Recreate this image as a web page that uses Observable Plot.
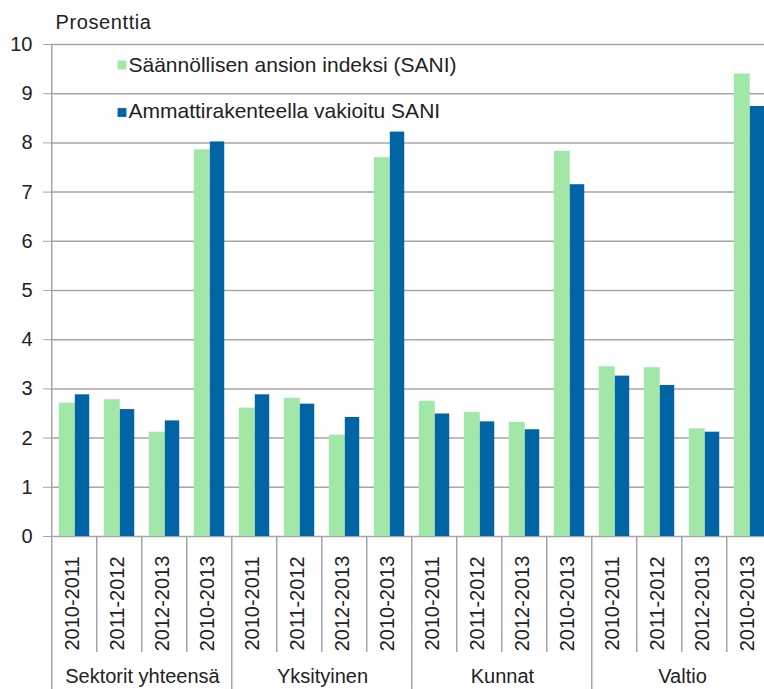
<!DOCTYPE html>
<html><head><meta charset="utf-8">
<script src="https://cdn.jsdelivr.net/npm/d3@7"></script>
<script src="https://cdn.jsdelivr.net/npm/@observablehq/plot@0.6"></script>
<style>
html,body{margin:0;padding:0;overflow:hidden;background:#fff;width:764px;height:689px;}
#chart svg{display:block;overflow:hidden;}
g[aria-label="y-axis tick"]{stroke:#a6a6a6;}
g[aria-label="y-axis"] .tick line{stroke:#a6a6a6;}
.legend text{font-size:21px;}
.ylab text{letter-spacing:0.6px;}
</style></head><body><div id="chart"></div>
<script>
// ---- data ----
const sectors = ["Sektorit yhteensä", "Yksityinen", "Kunnat", "Valtio"];
const periods = ["2010-2011", "2011-2012", "2012-2013", "2010-2013"];
const seriesNames = ["Säännöllisen ansion indeksi (SANI)", "Ammattirakenteella vakioitu SANI"];
const sani =     [2.71, 2.78, 2.12, 7.86,  2.61, 2.81, 2.06, 7.70,  2.75, 2.52, 2.32, 7.83,  3.45, 3.43, 2.19, 9.40];
const vakioitu = [2.88, 2.58, 2.35, 8.02,  2.88, 2.69, 2.42, 8.22,  2.49, 2.33, 2.17, 7.15,  3.26, 3.07, 2.12, 8.74];
const yTicks = [0, 1, 2, 3, 4, 5, 6, 7, 8, 9, 10];
const yLabel = "Prosenttia";

// ---- layout ----
const GREEN = "#a3e7a8", BLUE = "#0064a5", GRID = "#a6a6a6", TEXT = "#222";
const W = 764, H = 689, ML = 51, MR = -8, MT = 44, MB = 153;

const keys = [];
const rows = [];
sectors.forEach((s, si) => periods.forEach((p, pi) => {
  const i = si * periods.length + pi;
  const key = s + "|" + p;
  keys.push(key);
  rows.push({key, sector: s, period: p, sani: sani[i], vak: vakioitu[i]});
}));
const bw = (W - ML - MR) / keys.length;

const separators = (index, scales, values, dims) => {
  const x = scales.x;
  const g = d3.create("svg:g").attr("stroke", GRID).attr("stroke-width", 1.5).attr("fill", "none");
  const y0 = dims.height - dims.marginBottom;
  keys.forEach((k, i) => {
    const xx = Math.round(x(k)) - 0.25;
    g.append("line")
      .attr("x1", xx).attr("x2", xx)
      .attr("y1", i === 0 ? dims.marginTop : y0)
      .attr("y2", i % periods.length === 0 ? dims.height : y0 + 116);
  });
  return g.node();
};

const groupCenters = sectors.map((s) => ({s, key: s + "|" + periods[2]}));

const plot = Plot.plot({
  width: W, height: H,
  marginLeft: ML, marginRight: MR, marginTop: MT, marginBottom: MB,
  style: {fontSize: "20px", fontFamily: "'Liberation Sans', Arial, sans-serif", color: TEXT, background: "#fff", overflow: "hidden"},
  x: {type: "band", domain: keys, padding: 0, axis: null},
  y: {domain: [0, 10], ticks: yTicks, tickSize: 8, tickPadding: 11, label: null, tickFormat: d3.format("d")},
  marks: [
    Plot.ruleY(yTicks, {stroke: GRID, strokeWidth: 1.5}),
    Plot.barY(rows, {x: "key", y: "sani", fill: GREEN, insetLeft: 6.8, insetRight: bw - 22.8}),
    Plot.barY(rows, {x: "key", y: "vak", fill: BLUE, insetLeft: 22.8, insetRight: bw - 37.3}),
    separators,
    Plot.text(rows, {x: "key", text: "period", rotate: -90, frameAnchor: "bottom", lineAnchor: "middle", dy: 67, dx: -2, textAnchor: "middle", fill: TEXT}),
    Plot.text(groupCenters, {x: "key", text: "s", frameAnchor: "bottom", lineAnchor: "middle", dx: -bw / 2, dy: 140, textAnchor: "middle", fill: TEXT}),
    Plot.text([yLabel], {frameAnchor: "top-left", lineAnchor: "middle", dx: 4, dy: -22, textAnchor: "start", fill: TEXT, className: "ylab"}),
    Plot.dot([seriesNames[0]], {frameAnchor: "top-left", dx: 70.5, dy: 20.5, symbol: "square", r: 5, fill: GREEN, stroke: null}),
    Plot.dot([seriesNames[1]], {frameAnchor: "top-left", dx: 70.5, dy: 68, symbol: "square", r: 5, fill: BLUE, stroke: null}),
    Plot.text([seriesNames[0]], {frameAnchor: "top-left", lineAnchor: "middle", dx: 77, dy: 21, textAnchor: "start", fill: TEXT, className: "legend"}),
    Plot.text([seriesNames[1]], {frameAnchor: "top-left", lineAnchor: "middle", dx: 77, dy: 67, textAnchor: "start", fill: TEXT, className: "legend"})
  ]
});
document.getElementById("chart").appendChild(plot);
</script></body></html>
